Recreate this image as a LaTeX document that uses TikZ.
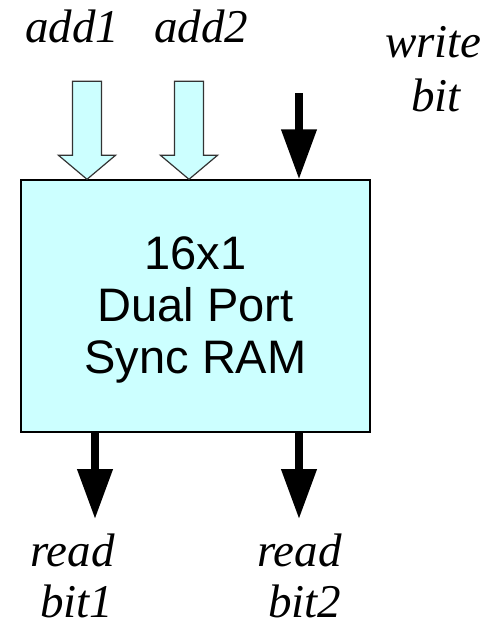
\documentclass[tikz,border=0pt]{standalone}
\usepackage{fontspec}
\setmainfont{Liberation Serif}
\newfontfamily\labelsans{Liberation Sans}
\usetikzlibrary{arrows.meta,calc}
\definecolor{ramfill}{HTML}{CCFFFF}
\definecolor{busedge}{HTML}{333333}
\tikzset{
  sig/.style={font=\fontsize{47}{50}\selectfont\itshape, anchor=base west, inner sep=0pt},
  ramtext/.style={font=\fontsize{47}{52}\selectfont\labelsans, align=center, inner sep=0pt},
  rambox/.style={draw=black, line width=1.4pt, fill=ramfill, minimum width=349pt, minimum height=252pt, inner sep=0pt},
  busarrow/.style={draw=busedge, line width=1.2pt, fill=ramfill, line join=miter},
  bitarrow/.style={line width=7.5pt, -{Triangle[length=50pt,width=34pt]}}
}
\begin{document}
\begin{tikzpicture}[x=1pt,y=-1pt]
  \useasboundingbox (0,0) rectangle (487,625);

  % memory block
  \node[rambox] (ram) at (195.5,306) {};
  \node[ramtext] (ramlabel) at (195.5,310) {16x1\\Dual Port\\Sync RAM};

  % address buses (hollow block arrows)
  \coordinate (a1tip) at (ram.north west -| 87,0);
  \coordinate (a2tip) at (ram.north west -| 189,0);
  \foreach \t in {a1tip,a2tip}{
    \draw[busarrow] ($(\t)+(-14.5,-98)$) -- ($(\t)+(14.5,-98)$) -- ($(\t)+(14.5,-24)$)
      -- ($(\t)+(28.5,-24)$) -- (\t) -- ($(\t)+(-28.5,-24)$) -- ($(\t)+(-14.5,-24)$) -- cycle;
  }

  % single-bit signals
  \coordinate (wsrc) at (299,93);
  \coordinate (r1end) at (95,519);
  \coordinate (r2end) at (299,519);
  \draw[bitarrow] (wsrc) -- (wsrc |- ram.north);
  \draw[bitarrow] (r1end |- ram.south) -- (r1end);
  \draw[bitarrow] (r2end |- ram.south) -- (r2end);

  % signal names
  \node[sig] (add1) at (25,42) {add1};
  \node[sig] (add2) at (154,42) {add2};
  \node[sig] (write) at (385,57) {write};
  \node[sig] (wbit) at (411,111) {bit};
  \node[sig] (read1) at (30,566) {read};
  \node[sig] (bit1) at (40,617) {bit1};
  \node[sig] (read2) at (257,566) {read};
  \node[sig] (bit2) at (268,617) {bit2};
\end{tikzpicture}
\end{document}
